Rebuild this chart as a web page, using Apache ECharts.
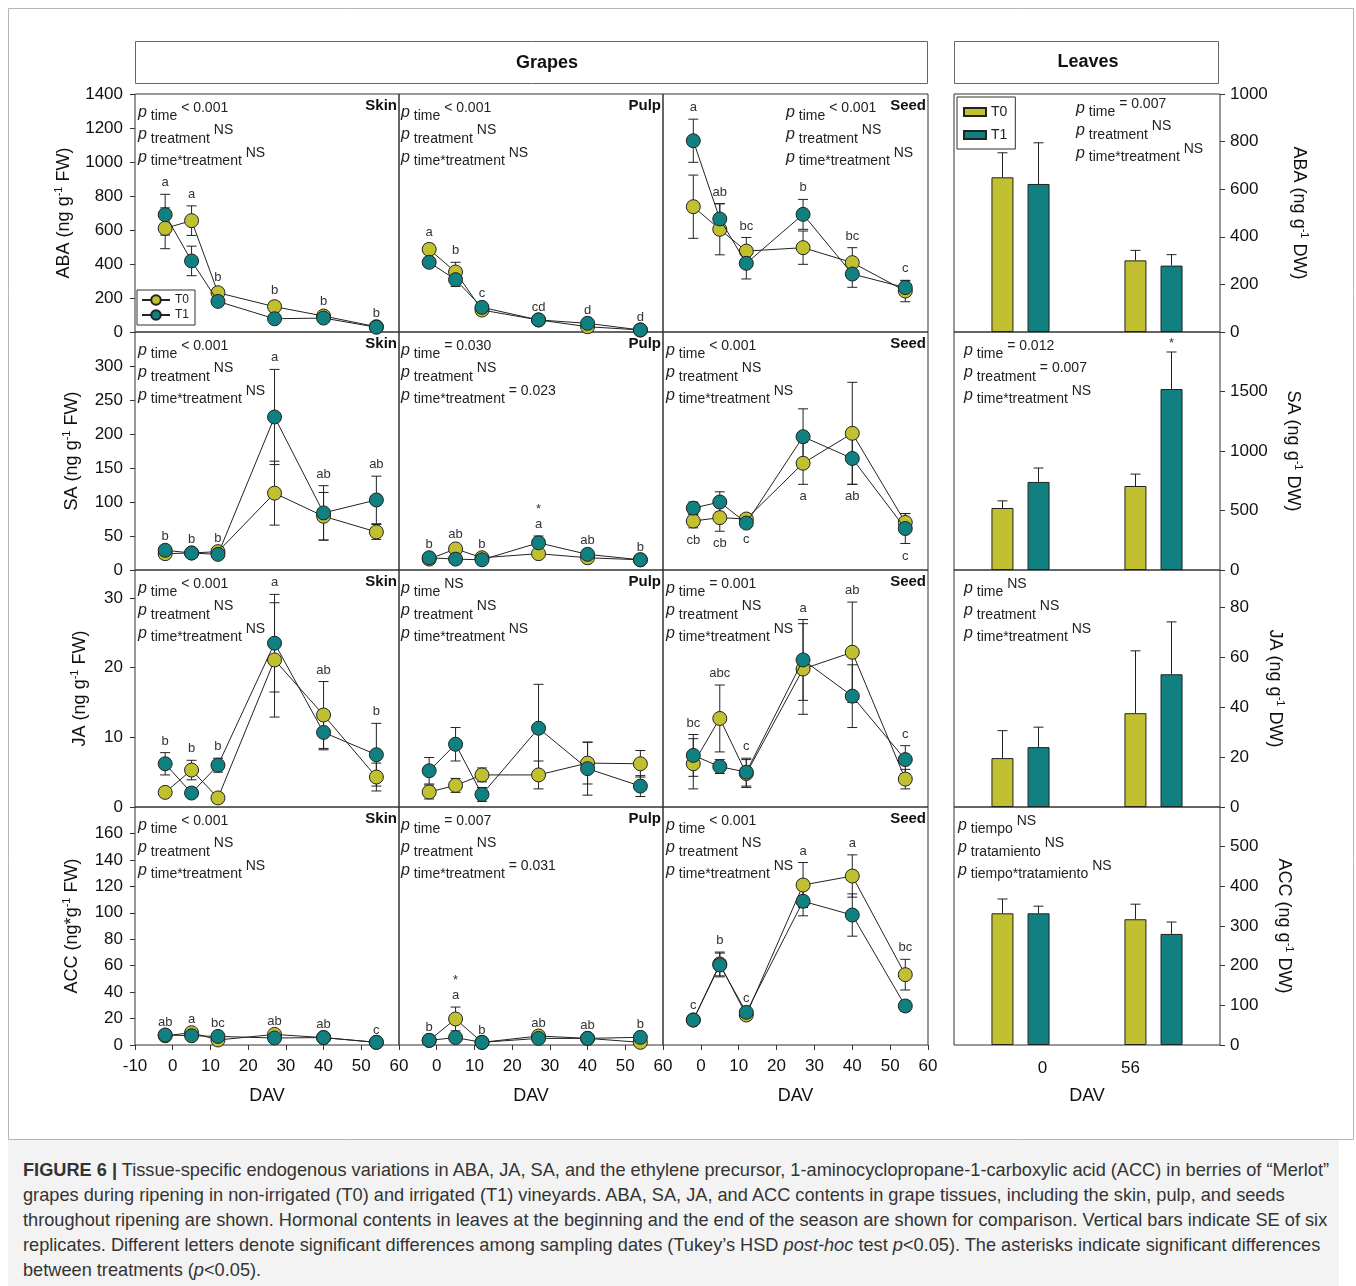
<!DOCTYPE html>
<html>
<head>
<meta charset="utf-8">
<title>Figure 6</title>
<script src="https://cdn.jsdelivr.net/npm/echarts@6/dist/echarts.min.js"></script>
<style>
  body { margin: 0; background: #fff; font-family: "Liberation Sans", Arial, sans-serif; }
  #chart { position: absolute; left: 0; top: 0; width: 1356px; height: 1140px; }
  #caption {
    position: absolute; left: 8px; top: 1140px; width: 1331px; height: 146px;
    padding: 18px 0 0 15px; background: #f3f3f3; color: #333;
    font-size: 18.2px; line-height: 25px; box-sizing: border-box;
    white-space: nowrap;
  }
</style>
</head>
<body>
<div id="chart"></div>
<div id="caption"><b>FIGURE 6 |</b> Tissue-specific endogenous variations in ABA, JA, SA, and the ethylene precursor, 1-aminocyclopropane-1-carboxylic acid (ACC) in berries of “Merlot”<br>grapes during ripening in non-irrigated (T0) and irrigated (T1) vineyards. ABA, SA, JA, and ACC contents in grape tissues, including the skin, pulp, and seeds<br>throughout ripening are shown. Hormonal contents in leaves at the beginning and the end of the season are shown for comparison. Vertical bars indicate SE of six<br>replicates. Different letters denote significant differences among sampling dates (Tukey’s HSD <i>post-hoc</i> test <i>p</i>&lt;0.05). The asterisks indicate significant differences<br>between treatments (<i>p</i>&lt;0.05).</div>
<script>
// sampling dates (days after veraison) and leaf sampling days
const dav = [-2, 5, 12, 27, 40, 54];
const leafDays = ['0', '56'];

// axis ranges per hormone row: ABA, SA, JA, ACC
const yMax = [1400, 350, 34, 180];
const yStep = [200, 50, 10, 20];
const leafMax = [1000, 2000, 95, 600];
const leafStep = [200, 500, 20, 100];

// ABA
const abaSkinT0 = [610, 655, 231, 149, 94, 31];
const abaSkinT0Se = [120, 87, 22, 30, 16, 8];
const abaSkinT1 = [690, 418, 180, 78, 82, 28];
const abaSkinT1Se = [120, 87, 20, 15, 12, 8];
const abaPulpT0 = [486, 353, 129, 71, 31, 12];
const abaPulpT0Se = [30, 57, 15, 8, 8, 5];
const abaPulpT1 = [410, 308, 145, 71, 51, 12];
const abaPulpT1Se = [25, 40, 15, 8, 8, 5];
const abaSeedT0 = [737, 604, 476, 496, 408, 241];
const abaSeedT0Se = [186, 150, 80, 98, 88, 63];
const abaSeedT1 = [1125, 665, 404, 692, 341, 261];
const abaSeedT1Se = [127, 90, 92, 88, 78, 40];
const abaLeafT0 = [650, 301];
const abaLeafT0Se = [103, 42];
const abaLeafT1 = [622, 279];
const abaLeafT1Se = [173, 46];

// SA
const saSkinT0 = [24, 25, 27, 113, 79, 56];
const saSkinT0Se = [4, 3, 3, 47, 35, 11];
const saSkinT1 = [29, 25, 23, 225, 84, 103];
const saSkinT1Se = [4, 3, 3, 70, 40, 35];
const saPulpT0 = [16, 31, 18, 24, 18, 15];
const saPulpT0Se = [3, 5, 3, 3, 2, 2];
const saPulpT1 = [18, 16, 15, 40, 23, 15];
const saPulpT1Se = [3, 3, 2, 10, 3, 2];
const saSeedT0 = [72, 77, 75, 157, 201, 70];
const saSeedT0Se = [10, 20, 5, 31, 75, 13];
const saSeedT1 = [91, 100, 69, 196, 164, 61];
const saSeedT1Se = [9, 15, 5, 41, 38, 22];
const saLeafT0 = [521, 706];
const saLeafT0Se = [60, 100];
const saLeafT1 = [740, 1521];
const saLeafT1Se = [117, 311];

// JA
const jaSkinT0 = [2.1, 5.3, 1.3, 21.1, 13.2, 4.3];
const jaSkinT0Se = [0.5, 1.4, 0.7, 8.2, 4.8, 2];
const jaSkinT1 = [6.2, 2.0, 6.0, 23.5, 10.7, 7.5];
const jaSkinT1Se = [1.6, 0.5, 1, 7, 2.5, 4.5];
const jaPulpT0 = [2.15, 3.1, 4.6, 4.6, 6.3, 6.2];
const jaPulpT0Se = [1, 1, 1, 2, 3, 1.9];
const jaPulpT1 = [5.2, 9.0, 1.8, 11.3, 5.5, 3.0];
const jaPulpT1Se = [1.9, 2.4, 1, 6.3, 3.8, 1.5];
const jaSeedT0 = [6.2, 12.7, 4.8, 19.8, 22.2, 4.0];
const jaSeedT0Se = [3.6, 4.8, 2, 6.5, 7.2, 1.4];
const jaSeedT1 = [7.4, 5.8, 5.0, 21.1, 15.9, 6.8];
const jaSeedT1Se = [3, 1, 2, 5.8, 4.5, 2];
const jaLeafT0 = [19.6, 37.6];
const jaLeafT0Se = [11, 25];
const jaLeafT1 = [24, 53.2];
const jaLeafT1Se = [8, 21];

// ACC
const accSkinT0 = [7, 9.3, 3.8, 8, 5.6, 2];
const accSkinT0Se = [1, 1.5, 1, 1, 1, 0.5];
const accSkinT1 = [7.6, 7, 6.5, 5.3, 5.6, 2];
const accSkinT1Se = [1, 1, 1, 1, 1, 0.5];
const accPulpT0 = [3.5, 19.7, 2, 6.8, 5, 2];
const accPulpT0Se = [1, 9, 0.5, 1, 1, 0.5];
const accPulpT1 = [3.5, 5.6, 2, 5, 5, 5.8];
const accPulpT1Se = [1, 1, 0.5, 1, 1, 1];
const accSeedT0 = [18.9, 61.3, 22.7, 121, 127.8, 53.2];
const accSeedT0Se = [2, 9, 2, 17, 16, 11.6];
const accSeedT1 = [18.9, 60.5, 24.7, 108.7, 98.3, 29.5];
const accSeedT1Se = [2, 9, 2, 11, 16, 4];
const accLeafT0 = [332, 317];
const accLeafT0Se = [36, 38];
const accLeafT1 = [332, 280];
const accLeafT1Se = [18, 30];

// Tukey letters over the dates
const abaSkinLetters = ['a', 'a', 'b', 'b', 'b', 'b'];
const abaPulpLetters = ['a', 'b', 'c', 'cd', 'd', 'd'];
const abaSeedLetters = ['a', 'ab', 'bc', 'b', 'bc', 'c'];
const saSkinLetters = ['b', 'b', 'b', 'a', 'ab', 'ab'];
const saPulpLetters = ['b', 'ab', 'b', '*\na', 'ab', 'b'];
const saSeedLetters = ['cb', 'cb', 'c', 'a', 'ab', 'c'];
const jaSkinLetters = ['b', 'b', 'b', 'a', 'ab', 'b'];
const jaPulpLetters = [];
const jaSeedLetters = ['bc', 'abc', 'c', 'a', 'ab', 'c'];
const accSkinLetters = ['ab', 'a', 'bc', 'ab', 'ab', 'c'];
const accPulpLetters = ['b', '*\na', 'b', 'ab', 'ab', 'b'];
const accSeedLetters = ['c', 'b', 'c', 'a', 'a', 'bc'];
const saLeafT1Marks = ['', '*'];

// ---- layout and style ----
const FONT = '"Liberation Sans", Arial, sans-serif';
const YELLOW = '#c0c030';
const TEAL = '#108080';
const INK = '#222';
const colLeft = [135, 399, 663, 954];
const colWidth = [264, 264, 265, 266];
const rowTop = [94, 332, 570, 807];
const rowHeight = [238, 238, 237, 238];
const tissues = ['Skin', 'Pulp', 'Seed'];
const leftNames = ['ABA (ng g{s|-1} FW)', 'SA (ng g{s|-1} FW)', 'JA (ng g{s|-1} FW)', 'ACC (ng*g{s|-1} FW)'];
const rightNames = ['ABA (ng g{s|-1} DW)', 'SA (ng g{s|-1} DW)', 'JA (ng g{s|-1} DW)', 'ACC (ng g{s|-1} DW)'];
const leftGap = [60, 52, 44, 52];
const rightGap = [68, 62, 44, 53];

const grapes = [
  [
    { t0: abaSkinT0, e0: abaSkinT0Se, t1: abaSkinT1, e1: abaSkinT1Se, letters: abaSkinLetters },
    { t0: abaPulpT0, e0: abaPulpT0Se, t1: abaPulpT1, e1: abaPulpT1Se, letters: abaPulpLetters },
    { t0: abaSeedT0, e0: abaSeedT0Se, t1: abaSeedT1, e1: abaSeedT1Se, letters: abaSeedLetters }
  ],
  [
    { t0: saSkinT0, e0: saSkinT0Se, t1: saSkinT1, e1: saSkinT1Se, letters: saSkinLetters },
    { t0: saPulpT0, e0: saPulpT0Se, t1: saPulpT1, e1: saPulpT1Se, letters: saPulpLetters },
    { t0: saSeedT0, e0: saSeedT0Se, t1: saSeedT1, e1: saSeedT1Se, letters: saSeedLetters, below: true }
  ],
  [
    { t0: jaSkinT0, e0: jaSkinT0Se, t1: jaSkinT1, e1: jaSkinT1Se, letters: jaSkinLetters },
    { t0: jaPulpT0, e0: jaPulpT0Se, t1: jaPulpT1, e1: jaPulpT1Se, letters: jaPulpLetters },
    { t0: jaSeedT0, e0: jaSeedT0Se, t1: jaSeedT1, e1: jaSeedT1Se, letters: jaSeedLetters }
  ],
  [
    { t0: accSkinT0, e0: accSkinT0Se, t1: accSkinT1, e1: accSkinT1Se, letters: accSkinLetters },
    { t0: accPulpT0, e0: accPulpT0Se, t1: accPulpT1, e1: accPulpT1Se, letters: accPulpLetters },
    { t0: accSeedT0, e0: accSeedT0Se, t1: accSeedT1, e1: accSeedT1Se, letters: accSeedLetters }
  ]
];
const leaves = [
  { t0: abaLeafT0, e0: abaLeafT0Se, t1: abaLeafT1, e1: abaLeafT1Se },
  { t0: saLeafT0, e0: saLeafT0Se, t1: saLeafT1, e1: saLeafT1Se, marks: saLeafT1Marks },
  { t0: jaLeafT0, e0: jaLeafT0Se, t1: jaLeafT1, e1: jaLeafT1Se },
  { t0: accLeafT0, e0: accLeafT0Se, t1: accLeafT1, e1: accLeafT1Se }
];

// p-value statements (skin, pulp, seed, leaves) per row
const NS3 = [['time', '< 0.001'], ['treatment', 'NS'], ['time*treatment', 'NS']];
const pStats = [
  [NS3, NS3, NS3, [['time', '= 0.007'], ['treatment', 'NS'], ['time*treatment', 'NS']]],
  [NS3, [['time', '= 0.030'], ['treatment', 'NS'], ['time*treatment', '= 0.023']], NS3,
    [['time', '= 0.012'], ['treatment', '= 0.007'], ['time*treatment', 'NS']]],
  [NS3, [['time', 'NS'], ['treatment', 'NS'], ['time*treatment', 'NS']],
    [['time', '= 0.001'], ['treatment', 'NS'], ['time*treatment', 'NS']],
    [['time', 'NS'], ['treatment', 'NS'], ['time*treatment', 'NS']]],
  [NS3, [['time', '= 0.007'], ['treatment', 'NS'], ['time*treatment', '= 0.031']], NS3,
    [['tiempo', 'NS'], ['tratamiento', 'NS'], ['tiempo*tratamiento', 'NS']]]
];
// where each p block starts, relative to its panel's left edge (row 0 seed/leaves are shifted right)
const pOffsetX = [[3, 2, 123, 122], [3, 2, 3, 10], [3, 2, 3, 10], [3, 2, 3, 4]];

function errorBar(params, api) {
  const x = api.value(0), v = api.value(1), e = api.value(2);
  const top = api.coord([x, v + e]);
  const bot = api.coord([x, v - e]);
  const st = { stroke: INK, lineWidth: 1 };
  return {
    type: 'group', children: [
      { type: 'line', shape: { x1: top[0], y1: top[1], x2: bot[0], y2: bot[1] }, style: st },
      { type: 'line', shape: { x1: top[0] - 5, y1: top[1], x2: top[0] + 5, y2: top[1] }, style: st },
      { type: 'line', shape: { x1: bot[0] - 5, y1: bot[1], x2: bot[0] + 5, y2: bot[1] }, style: st }
    ]
  };
}

function letterRender(letters, below) {
  return function (params, api) {
    const pt = api.coord([api.value(0), api.value(1)]);
    return {
      type: 'text', x: pt[0], y: pt[1] + (below ? 5 : -4),
      style: {
        text: letters[params.dataIndex], align: 'center', verticalAlign: below ? 'top' : 'bottom',
        fontSize: 13, lineHeight: 15, fontFamily: FONT, fill: '#333'
      }
    };
  };
}

function barErrorRender(marks) {
  return function (params, api) {
    const cat = api.value(0), v = api.value(1), e = api.value(2), side = api.value(3);
    const base = api.coord([cat, v]);
    const top = api.coord([cat, v + e]);
    const x = base[0] + side * 18;
    const st = { stroke: INK, lineWidth: 1 };
    const children = [
      { type: 'line', shape: { x1: x, y1: base[1], x2: x, y2: top[1] }, style: st },
      { type: 'line', shape: { x1: x - 5, y1: top[1], x2: x + 5, y2: top[1] }, style: st }
    ];
    const m = marks && side > 0 ? marks[params.dataIndex % 2] : '';
    if (m) {
      children.push({ type: 'text', x: x, y: top[1] - 2, style: { text: m, align: 'center', verticalAlign: 'bottom', fontSize: 13, fill: '#333', fontFamily: FONT } });
    }
    return { type: 'group', children };
  };
}

function pText(lines) {
  return lines.map(l => '{p|p}{sub| ' + l[0] + '}{sup| ' + l[1] + '}').join('\n');
}
const pRich = {
  p: { fontSize: 16, fontStyle: 'italic', lineHeight: 22.5, verticalAlign: 'middle', fill: INK, fontFamily: FONT },
  sub: { fontSize: 14, lineHeight: 19, verticalAlign: 'bottom', fill: INK, fontFamily: FONT },
  sup: { fontSize: 14, lineHeight: 19, verticalAlign: 'top', fill: INK, fontFamily: FONT }
};

const option = {
  animation: false,
  textStyle: { fontFamily: FONT },
  grid: [], xAxis: [], yAxis: [], series: [],
  legend: [
    {
      left: 137, top: 290, orient: 'vertical', data: ['T0', 'T1'], selectedMode: false,
      itemWidth: 28, itemHeight: 12, itemGap: 3, padding: [4, 6, 4, 4],
      borderColor: '#333', borderWidth: 1, textStyle: { fontSize: 12, color: INK }
    },
    {
      left: 957, top: 97, orient: 'vertical', data: ['T0 leaf', 'T1 leaf'], selectedMode: false,
      formatter: n => n.split(' ')[0], icon: 'rect',
      itemWidth: 22, itemHeight: 8, itemGap: 9, padding: [8, 8, 7, 6],
      borderColor: '#333', borderWidth: 1, textStyle: { fontSize: 14, color: INK }
    }
  ],
  graphic: []
};

const axisNameStyle = { fontSize: 18, color: '#111', lineHeight: 22, rich: { s: { fontSize: 11, lineHeight: 12, verticalAlign: 'top' } } };
const plain = v => String(v);

let g = 0;
for (let r = 0; r < 4; r++) {
  const bottom = r === 3;
  for (let c = 0; c < 4; c++) {
    option.grid.push({
      left: colLeft[c], top: rowTop[r], width: colWidth[c], height: rowHeight[r],
      show: true, borderColor: '#333', borderWidth: 1, backgroundColor: 'transparent', outerBoundsMode: 'none'
    });
    if (c < 3) {
      const p = grapes[r][c];
      option.xAxis.push({
        gridIndex: g, type: 'value', min: -10, max: 60, interval: 10,
        axisLine: { show: false, onZero: false }, splitLine: { show: false },
        axisTick: { show: bottom, length: 5, lineStyle: { color: '#333' } },
        axisLabel: { show: bottom, showMinLabel: c === 0, fontSize: 17, color: '#111', margin: 13, formatter: plain },
        name: bottom ? 'DAV' : '', nameLocation: 'middle', nameGap: 42, nameTextStyle: { fontSize: 18, color: '#111' }
      });
      option.yAxis.push({
        gridIndex: g, type: 'value', min: 0, max: yMax[r], interval: yStep[r],
        axisLine: { show: false, onZero: false }, splitLine: { show: false },
        axisTick: { show: c === 0, length: 5, lineStyle: { color: '#333' } },
        axisLabel: { show: c === 0, showMaxLabel: r === 0, fontSize: 17, color: '#111', margin: 12, formatter: plain },
        name: c === 0 ? leftNames[r] : '', nameLocation: 'middle', nameGap: leftGap[r], nameTextStyle: axisNameStyle
      });
      const err = [];
      p.t0.forEach((v, i) => err.push([dav[i], v, p.e0[i]]));
      p.t1.forEach((v, i) => err.push([dav[i], v, p.e1[i]]));
      option.series.push({ type: 'custom', xAxisIndex: g, yAxisIndex: g, z: 2, silent: true, renderItem: errorBar, data: err, encode: { x: 0, y: 1 } });
      [['T0', p.t0, YELLOW], ['T1', p.t1, TEAL]].forEach(([name, vals, col], k) => {
        option.series.push({
          type: 'line', name, xAxisIndex: g, yAxisIndex: g, z: 3 + k, silent: true,
          data: vals.map((v, i) => [dav[i], v]),
          symbol: 'circle', symbolSize: 14,
          lineStyle: { color: INK, width: 1 },
          itemStyle: { color: col, borderColor: INK, borderWidth: 1 }
        });
      });
      if (p.letters.length) {
        const anchor = dav.map((x, i) => p.below
          ? [x, Math.min(p.t0[i] - p.e0[i], p.t1[i] - p.e1[i])]
          : [x, Math.max(p.t0[i] + p.e0[i], p.t1[i] + p.e1[i])]);
        option.series.push({ type: 'custom', xAxisIndex: g, yAxisIndex: g, z: 6, silent: true, renderItem: letterRender(p.letters, p.below), data: anchor, encode: { x: 0, y: 1 } });
      }
      option.graphic.push({
        type: 'text', x: colLeft[c] + colWidth[c] - 2, y: rowTop[r] + 4,
        style: { text: tissues[c], align: 'right', verticalAlign: 'top', fontSize: 15, fontWeight: 'bold', fill: '#111', fontFamily: FONT }
      });
    } else {
      const L = leaves[r];
      option.xAxis.push({
        gridIndex: g, type: 'category', data: leafDays,
        axisLine: { show: false, onZero: false }, axisTick: { show: false }, splitLine: { show: false },
        axisLabel: {
          show: bottom, fontSize: 17, color: '#111', margin: 15,
          formatter: (v, i) => (i === 0 ? '{l|' : '{r|') + v + '}',
          rich: { l: { fontSize: 17, padding: [0, 0, 0, 44] }, r: { fontSize: 17, padding: [0, 46, 0, 0] } }
        },
        name: bottom ? 'DAV' : '', nameLocation: 'middle', nameGap: 42, nameTextStyle: { fontSize: 18, color: '#111' }
      });
      option.yAxis.push({
        gridIndex: g, type: 'value', position: 'right', min: 0, max: leafMax[r], interval: leafStep[r],
        axisLine: { show: false, onZero: false }, splitLine: { show: false },
        axisTick: { show: true, length: 5, lineStyle: { color: '#333' } },
        axisLabel: { show: true, showMaxLabel: r === 0, fontSize: 17, color: '#111', margin: 10, formatter: plain },
        name: rightNames[r], nameLocation: 'middle', nameRotate: -90, nameGap: rightGap[r], nameTextStyle: axisNameStyle
      });
      [['T0 leaf', L.t0, YELLOW], ['T1 leaf', L.t1, TEAL]].forEach(([name, vals, col]) => {
        option.series.push({
          type: 'bar', name, xAxisIndex: g, yAxisIndex: g, z: 2, silent: true,
          data: vals, barWidth: 22, barGap: '64%',
          itemStyle: { color: col, borderColor: INK, borderWidth: 1 }
        });
      });
      const err = [];
      L.t0.forEach((v, i) => err.push([i, v, L.e0[i], -1]));
      L.t1.forEach((v, i) => err.push([i, v, L.e1[i], 1]));
      option.series.push({ type: 'custom', xAxisIndex: g, yAxisIndex: g, z: 3, silent: true, renderItem: barErrorRender(L.marks), data: err, encode: { x: 0, y: 1 } });
    }
    option.graphic.push({
      type: 'text', x: colLeft[c] + pOffsetX[r][c], y: rowTop[r] + (r === 0 && c === 3 ? 3 : 7),
      style: { text: pText(pStats[r][c]), rich: pRich, fontSize: 14, fill: INK, fontFamily: FONT }
    });
    g++;
  }
}

// outer frame and the two header boxes
option.graphic.push(
  { type: 'rect', shape: { x: 8.5, y: 8.5, width: 1345, height: 1131 }, style: { fill: 'none', stroke: '#b5b5b5', lineWidth: 1 }, z: -1 },
  { type: 'rect', shape: { x: 135.5, y: 41.5, width: 792, height: 42 }, style: { fill: '#fff', stroke: '#666', lineWidth: 1 } },
  { type: 'text', x: 547, y: 63, style: { text: 'Grapes', align: 'center', verticalAlign: 'middle', fontSize: 18, fontWeight: 'bold', fill: '#111', fontFamily: FONT } },
  { type: 'rect', shape: { x: 954.5, y: 41.5, width: 264, height: 42 }, style: { fill: '#fff', stroke: '#666', lineWidth: 1 } },
  { type: 'text', x: 1088, y: 62, style: { text: 'Leaves', align: 'center', verticalAlign: 'middle', fontSize: 18, fontWeight: 'bold', fill: '#111', fontFamily: FONT } }
);

const chart = echarts.init(document.getElementById('chart'));
chart.setOption(option);
</script>
</body>
</html>
